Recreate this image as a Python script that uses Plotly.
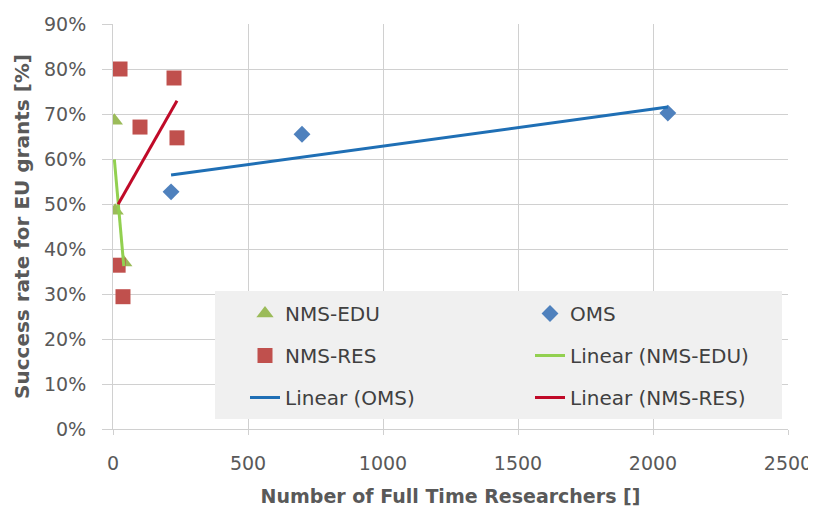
import numpy as np
import plotly.graph_objects as go

# ---- data ----
edu_x = [5, 8, 40]
edu_y = [68.5, 48.5, 37.0]

res_x = [26, 100, 226, 237, 19, 37]
res_y = [80.0, 67.1, 78.0, 64.7, 36.4, 29.4]

oms_x = [215, 700, 2055]
oms_y = [52.7, 65.5, 70.2]

x_ticks = [0, 500, 1000, 1500, 2000, 2500]
y_ticks = [0, 10, 20, 30, 40, 50, 60, 70, 80, 90]
y_labels = [f"{v}%" for v in y_ticks]

FONT = "DejaVu Sans"
TXT = "#595959"
GRID = "#d0d0d0"


def trend(xs, ys):
    m, b = np.polyfit(xs, ys, 1)
    xx = np.array([min(xs), max(xs)], dtype=float)
    return xx, m * xx + b


fig = go.Figure()

fig.add_trace(go.Scatter(x=edu_x, y=edu_y, mode="markers", name="NMS-EDU",
                         marker=dict(symbol="triangle-up", size=15, color="#9BBB59"),
                         legend="legend", legendgroup="a"))
fig.add_trace(go.Scatter(x=oms_x, y=oms_y, mode="markers", name="OMS",
                         marker=dict(symbol="diamond", size=13, color="#4F81BD"),
                         legend="legend2", legendgroup="b"))
fig.add_trace(go.Scatter(x=res_x, y=res_y, mode="markers", name="NMS-RES",
                         marker=dict(symbol="square", size=15, color="#C0504D"),
                         legend="legend", legendgroup="c"))

tx, ty = trend(edu_x, edu_y)
fig.add_trace(go.Scatter(x=tx, y=ty, mode="lines", name="Linear (NMS-EDU)",
                         line=dict(color="#92D050", width=3),
                         legend="legend2", legendgroup="d"))
tx, ty = trend(oms_x, oms_y)
fig.add_trace(go.Scatter(x=tx, y=ty, mode="lines", name="Linear (OMS)",
                         line=dict(color="#1F6FB5", width=3),
                         legend="legend", legendgroup="e"))
tx, ty = trend(res_x, res_y)
fig.add_trace(go.Scatter(x=tx, y=ty, mode="lines", name="Linear (NMS-RES)",
                         line=dict(color="#C00A28", width=3),
                         legend="legend2", legendgroup="f"))

# target plot-area position on screen; the page body adds an 8px offset
OFF = 8
L, R, T, B = 113, 788, 24, 429
W, H = R - L, B - T


def px(xp):
    return (xp - L) / W


def py(yp):
    return (B - yp) / H


leg_common = dict(bgcolor="rgba(0,0,0,0)", font=dict(family=FONT, size=20, color="#404040"),
                  tracegroupgap=13, yanchor="top", xanchor="left", orientation="v",
                  itemclick=False, itemdoubleclick=False)

ml, mt = L - OFF, T - OFF
fig.update_layout(
    width=816, height=513,
    margin=dict(l=ml, r=816 - ml - W, t=mt, b=513 - mt - H, autoexpand=False),
    paper_bgcolor="white", plot_bgcolor="white",
    font=dict(family=FONT, color=TXT, size=18),
    xaxis=dict(range=[0, 2500], tickvals=x_ticks, showgrid=True, gridcolor=GRID, gridwidth=1,
               zeroline=False, showline=True, linecolor=GRID, ticks="outside", ticklen=5,
               tickcolor=GRID, ticklabelstandoff=12, automargin=False,
               tickfont=dict(family=FONT, size=19, color=TXT),
               title=dict(text="<b>Number of Full Time Researchers []</b>",
                          font=dict(family=FONT, size=19, color=TXT), standoff=16)),
    yaxis=dict(range=[0, 90], tickvals=y_ticks, ticktext=y_labels, showgrid=True,
               gridcolor=GRID, gridwidth=1, zeroline=False, showline=True, linecolor=GRID,
               ticks="outside", ticklen=10, tickcolor=GRID, ticklabelstandoff=12,
               automargin=False,
               tickfont=dict(family=FONT, size=19, color=TXT),
               title=dict(text="<b>Success rate for EU grants [%]</b>",
                          font=dict(family=FONT, size=20, color=TXT), standoff=8)),
    legend=dict(x=px(245), y=py(294), **leg_common),
    legend2=dict(x=px(530), y=py(294), **leg_common),
    shapes=[dict(type="rect", xref="paper", yref="paper",
                 x0=px(215), x1=px(782), y0=py(419), y1=py(291),
                 fillcolor="#f0f0f0", line=dict(width=0), layer="above")],
)

fig.write_html("out.html")
